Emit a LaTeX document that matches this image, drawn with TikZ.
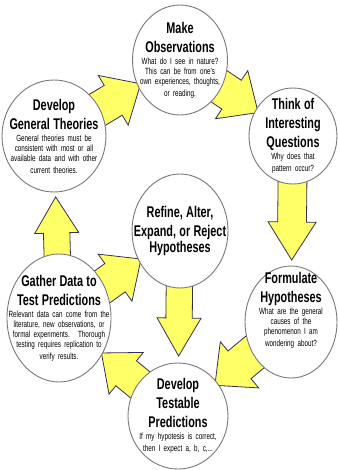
\documentclass[tikz,border=0pt]{standalone}
\usepackage{fontspec}
\setmainfont{Liberation Sans}[FakeStretch=0.7]
\usetikzlibrary{calc,shapes.geometric,backgrounds}

\definecolor{arrowfill}{RGB}{255,255,102}
\definecolor{arrowline}{RGB}{55,45,85}
\definecolor{bubbleline}{RGB}{120,120,120}

\newcommand{\ttl}{\fontsize{15.5}{19}\selectfont\bfseries}
\newcommand{\bdy}{\par\vspace{2pt}\fontsize{9}{10}\selectfont\mdseries}

% fat arrow: from #1 to #2, tip #3 off the centre of #2, head half width #4, head length #5
\newcommand{\blockarrow}[5]{%
  \path ($(#2)!#3!(#1)$) coordinate (tip) ($(#2)!#3+#5!(#1)$) coordinate (hb);
  \draw[yarrow] ($(#1)!0.6*#4!-90:(#2)$) -- ($(hb)!0.6*#4!90:(#1)$) -- ($(hb)!#4!90:(#1)$)
    -- (tip) -- ($(hb)!#4!-90:(#1)$) -- ($(hb)!0.6*#4!-90:(#1)$) -- ($(#1)!0.6*#4!90:(#2)$) -- cycle;
}

\begin{document}
\begin{tikzpicture}[x=1pt,y=-1pt,
  bubble/.style={ellipse,draw=bubbleline,fill=white,line width=0.9pt,inner sep=0pt},
  words/.style={text width=120pt,align=center,inner sep=0pt},
  yarrow/.style={fill=arrowfill,draw=arrowline,line width=0.8pt,line join=miter}]
\useasboundingbox (0,0) rectangle (339,470);

\node[bubble,minimum width=95pt,minimum height=110pt]  (obs)    at (180,60)  {};
\node[bubble,minimum width=104pt,minimum height=112pt] (theo)   at (54,136)  {};
\node[bubble,minimum width=88pt,minimum height=96pt]   (think)  at (293,136) {};
\node[bubble,minimum width=96pt,minimum height=114pt]  (refine) at (180,231) {};
\node[bubble,minimum width=104pt,minimum height=128pt] (gather) at (59,318)  {};
\node[bubble,minimum width=92pt,minimum height=112pt]  (form)   at (291,322) {};
\node[bubble,minimum width=100pt,minimum height=106pt] (test)   at (178,416) {};

%--------------------------------------------------------

\node[words] (obstxt) at (obs) {\ttl Make\\Observations\bdy What do I see in nature?\\This can be from one's\\own experiences, thoughts,\\or reading.};
\node[words] (theotxt) at (theo) {\ttl Develop\\General Theories\bdy General theories must be\\consistent with most or all\\available data and with other\\current theories.};
\node[words] (thinktxt) at (think) {\ttl Think of\\Interesting\\Questions\bdy Why does that\\pattern occur?};
\node[words] (refinetxt) at (refine) {\ttl Refine, Alter,\\Expand, or Reject\\Hypotheses};
\node[words] (gathertxt) at (gather) {\ttl Gather Data to\\Test Predictions\bdy Relevant data can come from the\\literature, new observations, or\\formal experiments.~ Thorough\\testing requires replication to\\verify results.};
\node[words] (formtxt) at ($(form)+(0,-12)$) {\ttl Formulate\\Hypotheses\bdy What are the general\\causes of the\\phenomenon I am\\wondering about?};
\node[words] (testtxt) at (test) {\ttl Develop\\Testable\\Predictions\bdy If my hypotesis is correct,\\then I expect a, b, c,...};

%--------------------------------------------------------

\begin{pgfonlayer}{background}
\blockarrow{theo}{obs}{46pt}{29pt}{32pt}
\blockarrow{obs}{think}{42pt}{29pt}{32pt}
\blockarrow{think}{form}{62pt}{24pt}{38pt}
\blockarrow{form}{test}{48pt}{30pt}{32pt}
\blockarrow{test}{gather}{55pt}{27pt}{32pt}
\blockarrow{gather}{theo}{61pt}{22pt}{36pt}
\blockarrow{gather}{refine}{48pt}{29pt}{32pt}
\blockarrow{refine}{test}{60pt}{22pt}{38pt}
\end{pgfonlayer}
\end{tikzpicture}
\end{document}
